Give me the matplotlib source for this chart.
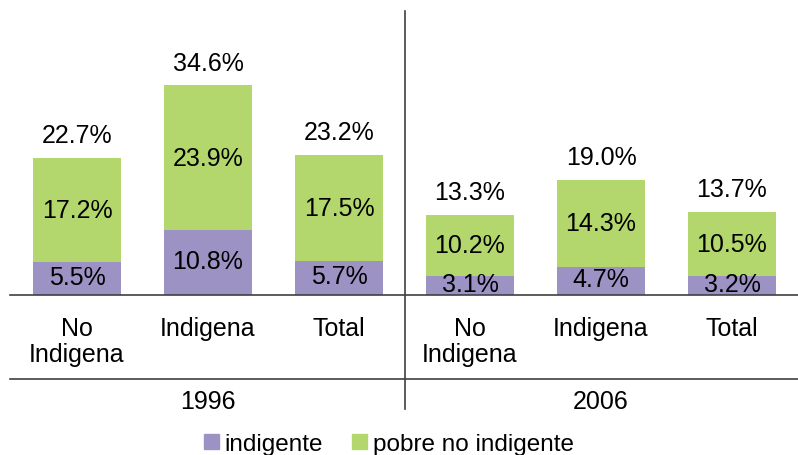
import matplotlib.pyplot as plt
from matplotlib.patches import Patch

plt.rcParams['font.family'] = ['Liberation Sans', 'DejaVu Sans']

# data
years = ["1996", "2006"]
categories = ["No\nIndigena", "Indigena", "Total", "No\nIndigena", "Indigena", "Total"]
indigente = [5.5, 10.8, 5.7, 3.1, 4.7, 3.2]
pobre_no_indigente = [17.2, 23.9, 17.5, 10.2, 14.3, 10.5]
totals = [22.7, 34.6, 23.2, 13.3, 19.0, 13.7]

c_ind = "#9d92c4"
c_pob = "#b3d76c"
line_c = "#404040"
fs = 18

fig = plt.figure(figsize=(7.98, 4.56), dpi=100)
ax = fig.add_axes([10/798, 1 - 296/456, 788/798, 296/456])

x = list(range(len(categories)))
ax.bar(x, indigente, width=0.67, color=c_ind)
ax.bar(x, pobre_no_indigente, width=0.67, bottom=indigente, color=c_pob)

for i in x:
    ax.text(i, indigente[i] / 2 + 0.3, f"{indigente[i]:.1f}%", ha="center", va="center", fontsize=fs)
    ax.text(i, indigente[i] + pobre_no_indigente[i] / 2, f"{pobre_no_indigente[i]:.1f}%",
            ha="center", va="center", fontsize=fs)
    ax.text(i, totals[i] + 3.8, f"{totals[i]:.1f}%", ha="center", va="center", fontsize=fs)

ax.set_xlim((10 - 77) / 131, (798 - 77) / 131)
ax.set_ylim(0, 296 / 6.04)
ax.set_xticks(x)
ax.set_xticklabels(categories, fontsize=fs, linespacing=1.12)
ax.tick_params(axis="x", length=0, pad=15)
ax.set_yticks([])
for s in ["top", "left", "right"]:
    ax.spines[s].set_visible(False)
ax.spines["bottom"].set_color(line_c)
ax.spines["bottom"].set_linewidth(1.2)

# group separators
ax.axvline(2.5, ymin=(296 - 410) / 296, ymax=(296 - 12) / 296, color=line_c, lw=1.2, clip_on=False)
yline = (296 - 380) / 296
ax.plot(ax.get_xlim(), [yline, yline], transform=ax.get_xaxis_transform(),
        color=line_c, lw=1.2, clip_on=False)
for g, yr in enumerate(years):
    ax.text(1 + 3 * g, (296 - 402) / 296, yr, transform=ax.get_xaxis_transform(),
            ha="center", va="center", fontsize=fs)

handles = [Patch(color=c_ind, label="indigente"), Patch(color=c_pob, label="pobre no indigente")]
fig.legend(handles=handles, loc="center", bbox_to_anchor=(389 / 798, 1 - 445 / 456), ncol=2,
           frameon=False, fontsize=17.5, handlelength=0.6, handleheight=0.6,
           handletextpad=0.25, columnspacing=1.2, borderpad=0)

fig.savefig("out.png", dpi=100)
